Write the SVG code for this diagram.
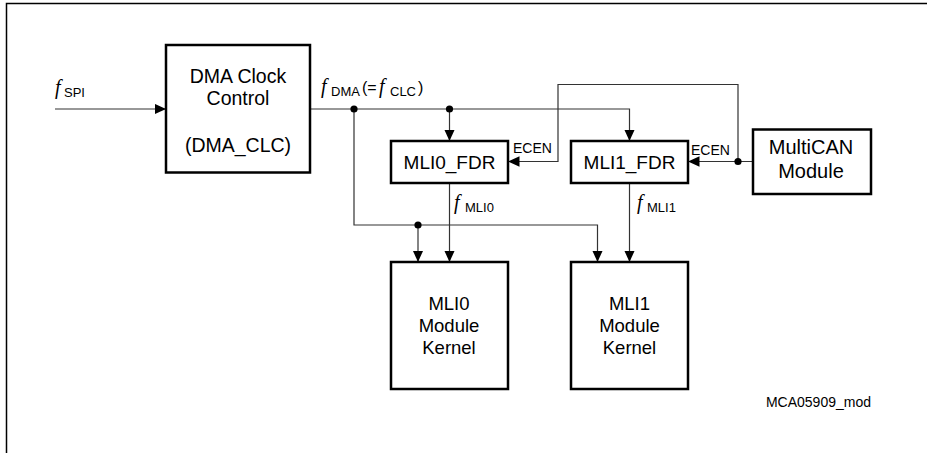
<svg xmlns="http://www.w3.org/2000/svg" width="927" height="453" viewBox="0 0 927 453">
<style>
.box{fill:#fff;stroke:#000;stroke-width:2.5}
.wire{fill:none;stroke:#333;stroke-width:1.2}
.t{font-family:"Liberation Sans",Arial,sans-serif;fill:#000;text-anchor:middle}
.f{font-family:"Liberation Serif","Times New Roman",serif;font-style:italic;font-size:20px}
.s{font-family:"Liberation Sans",Arial,sans-serif;font-size:13px}
.lab{font-family:"Liberation Sans",Arial,sans-serif;fill:#000}
</style>
<defs>
<marker id="ah" markerUnits="userSpaceOnUse" markerWidth="12" markerHeight="11" refX="11.5" refY="5.25" orient="auto">
<path d="M0,0 L11.5,5.25 L0,10.5 z" fill="#000"/>
</marker>
</defs>
<path d="M6.5,453 V3.5 H927" fill="none" stroke="#000" stroke-width="1.5"/>
<g id="connectors">
<path class="wire" d="M55,109 H166" marker-end="url(#ah)"/>
<path class="wire" d="M310,109 H629.5 V141" marker-end="url(#ah)"/>
<path class="wire" d="M449.5,109 V141" marker-end="url(#ah)"/>
<path class="wire" d="M354,109 V225 H597.5 V262" marker-end="url(#ah)"/>
<path class="wire" d="M418,225 V262" marker-end="url(#ah)"/>
<path class="wire" d="M449.5,183 V262" marker-end="url(#ah)"/>
<path class="wire" d="M629.5,183 V262" marker-end="url(#ah)"/>
<path class="wire" d="M753,161.5 H688" marker-end="url(#ah)"/>
<path class="wire" d="M738,161.5 V84.5 H558 V161.5 H508" marker-end="url(#ah)"/>
<circle cx="354" cy="109" r="3.6"/>
<circle cx="449.5" cy="109" r="3.6"/>
<circle cx="418" cy="225" r="3.6"/>
<circle cx="738" cy="161.5" r="3.6"/>
</g>
<g id="fspi">
<text x="55" y="94" class="lab"><tspan class="f">f</tspan><tspan class="s" dy="3" x="64">SPI</tspan></text>
</g>
<g id="fdma">
<text x="321" y="93" class="lab"><tspan class="f">f</tspan><tspan class="s" dy="2.5" x="331">DMA</tspan><tspan dy="-2.5" x="362" font-size="16">(=</tspan><tspan class="f" x="379">f</tspan><tspan class="s" dy="2.5" x="390">CLC</tspan><tspan dy="-2.5" x="418" font-size="16">)</tspan></text>
</g>
<g id="dma_clc">
<rect class="box" x="166" y="45" width="144" height="127.5"/>
<text class="t" x="238" y="83" font-size="19.5">DMA Clock</text>
<text class="t" x="238" y="105" font-size="19.5">Control</text>
<text class="t" x="238" y="151.5" font-size="19.5">(DMA_CLC)</text>
</g>
<g id="mli0_fdr">
<rect class="box" x="391" y="141" width="117" height="42"/>
<text class="t" x="449.5" y="169" font-size="19">MLI0_FDR</text>
</g>
<g id="mli1_fdr">
<rect class="box" x="571" y="141" width="117" height="42"/>
<text class="t" x="629.5" y="169" font-size="19">MLI1_FDR</text>
</g>
<g id="multican">
<rect class="box" x="753" y="129.5" width="118" height="64.5"/>
<text class="t" x="811" y="154.3" font-size="20">MultiCAN</text>
<text class="t" x="811" y="178.3" font-size="20">Module</text>
</g>
<g id="ecen0"><text class="lab" x="513" y="153.3" font-size="14">ECEN</text></g>
<g id="ecen1"><text class="lab" x="691" y="155" font-size="14">ECEN</text></g>
<g id="fmli0">
<text x="454" y="209" class="lab"><tspan class="f">f</tspan><tspan class="s" dy="3" x="465">MLI0</tspan></text>
</g>
<g id="fmli1">
<text x="637" y="209" class="lab"><tspan class="f">f</tspan><tspan class="s" dy="3" x="647">MLI1</tspan></text>
</g>
<g id="mli0_kernel">
<rect class="box" x="391" y="262" width="117" height="127"/>
<text class="t" x="449" y="310" font-size="18.5">MLI0</text>
<text class="t" x="449" y="332" font-size="18.5">Module</text>
<text class="t" x="449" y="354" font-size="18.5">Kernel</text>
</g>
<g id="mli1_kernel">
<rect class="box" x="571" y="262" width="117" height="127"/>
<text class="t" x="629.5" y="310" font-size="18.5">MLI1</text>
<text class="t" x="629.5" y="332" font-size="18.5">Module</text>
<text class="t" x="629.5" y="354" font-size="18.5">Kernel</text>
</g>
<g id="caption">
<text class="lab" x="871" y="407" font-size="14" text-anchor="end">MCA05909_mod</text>
</g>
</svg>
